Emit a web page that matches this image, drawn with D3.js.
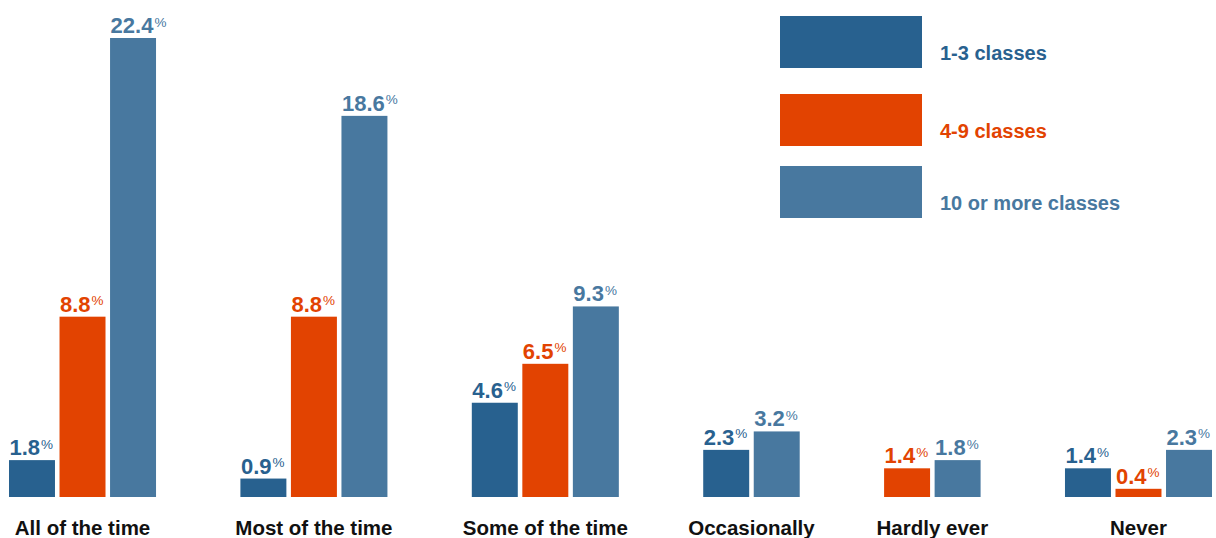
<!DOCTYPE html>
<html>
<head>
<meta charset="utf-8">
<script src="https://cdn.jsdelivr.net/npm/d3@7"></script>
<style>
  html, body { margin: 0; padding: 0; background: #fff; }
  svg { display: block; font-family: "Liberation Sans", Arial, Helvetica, sans-serif; font-weight: bold; }
</style>
</head>
<body>
<svg id="chart" width="1216" height="538"></svg>
<script>
// Frequency categories along the x axis
const categories = ["All of the time", "Most of the time", "Some of the time", "Occasionally", "Hardly ever", "Never"];

// Series (percent); null = no bar for that category
const seriesNames = ["1-3 classes", "4-9 classes", "10 or more classes"];
const classes1to3   = [1.8, 0.9, 4.6, 2.3, null, 1.4];
const classes4to9   = [8.8, 8.8, 6.5, null, 1.4, 0.4];
const classes10plus = [22.4, 18.6, 9.3, 3.2, 1.8, 2.3];
const seriesValues = [classes1to3, classes4to9, classes10plus];
const seriesColors = ["#28618f", "#e24301", "#48789f"];

const svg = d3.select("#chart");

// Layout in "slot" units: one slot per drawn bar, plus a gap between groups
const gapUnits = 1.58;
const barFrac = 0.91;
const groups = categories.map((c, i) => {
  const bars = seriesValues
    .map((vals, s) => ({ series: s, value: vals[i] }))
    .filter(d => d.value != null);
  return { category: c, bars };
});
let cursor = 0;
groups.forEach(g => {
  g.start = cursor;
  g.bars.forEach((b, k) => { b.slot = cursor + k; });
  cursor += g.bars.length;
  g.end = cursor - 1 + barFrac;
  cursor += gapUnits;
});
const totalUnits = groups[groups.length - 1].end;

const x = d3.scaleLinear().domain([0, totalUnits]).range([9, 1212]);
const maxVal = d3.max(seriesValues.flat().filter(v => v != null));
const y = d3.scaleLinear().domain([0, maxVal]).range([497, 38]);

const barW = x(barFrac) - x(0);

const g = svg.selectAll("g.group")
  .data(groups)
  .join("g")
  .attr("class", "group");

// bars
g.selectAll("rect")
  .data(d => d.bars)
  .join("rect")
  .attr("x", d => x(d.slot))
  .attr("y", d => y(d.value))
  .attr("width", barW)
  .attr("height", d => y(0) - y(d.value))
  .attr("fill", d => seriesColors[d.series]);

// value labels with a small raised percent sign
const lbl = g.selectAll("text.value")
  .data(d => d.bars)
  .join("text")
  .attr("class", "value")
  .attr("x", d => x(d.slot) + 0.5)
  .attr("y", d => y(d.value) - 5)
  .attr("fill", d => seriesColors[d.series])
  .style("font-size", "22px");
lbl.append("tspan").text(d => d.value.toFixed(1));
lbl.append("tspan")
  .text("%")
  .attr("dx", 1)
  .attr("dy", -6.5)
  .style("font-size", "13.5px")
  .style("font-weight", "normal");

// category labels
g.append("text")
  .attr("class", "cat")
  .attr("x", d => (x(d.start) + x(d.end)) / 2)
  .attr("y", 535)
  .attr("text-anchor", "middle")
  .attr("fill", "#111")
  .style("font-size", "20.5px")
  .text(d => d.category);

// legend
const legendRowY = [16, 94, 166];
const leg = svg.append("g").attr("class", "legend")
  .selectAll("g")
  .data(seriesNames)
  .join("g")
  .attr("transform", (d, i) => `translate(780, ${legendRowY[i]})`);
leg.append("rect")
  .attr("width", 142)
  .attr("height", 52)
  .attr("fill", (d, i) => seriesColors[i]);
leg.append("text")
  .attr("x", 160)
  .attr("y", 44)
  .attr("fill", (d, i) => seriesColors[i])
  .style("font-size", "20px")
  .text(d => d);
</script>
</body>
</html>
